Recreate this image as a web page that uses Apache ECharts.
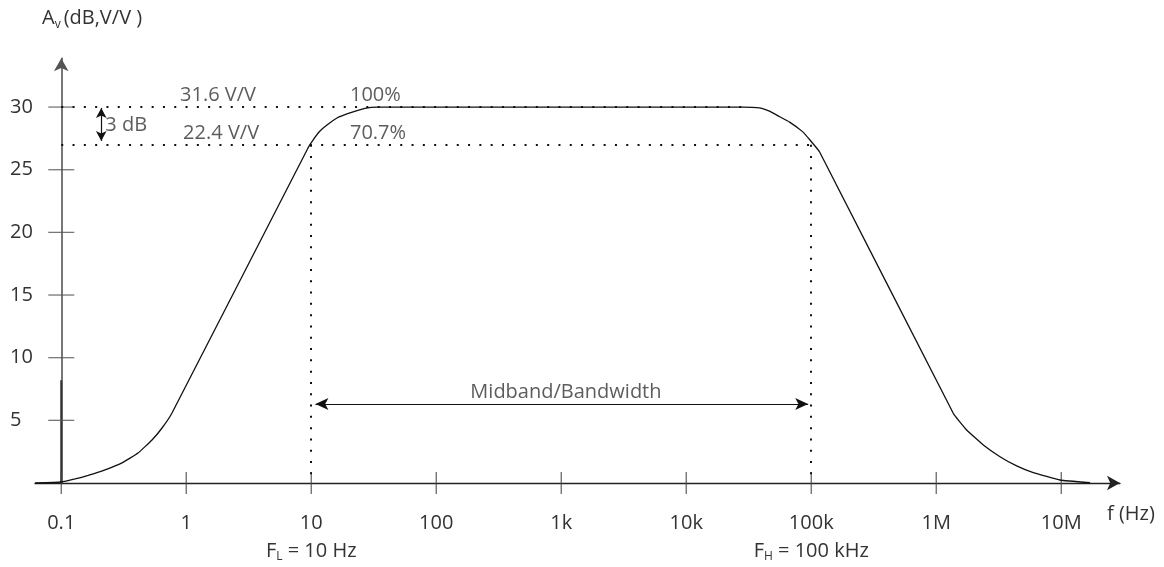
<!DOCTYPE html>
<html><head><meta charset="utf-8">
<script src="https://cdn.jsdelivr.net/npm/echarts@6/dist/echarts.min.js"></script>
<style>html,body{margin:0;padding:0;background:#fff}#c{width:1164px;height:567px}</style>
</head><body><div id="c"></div>
<script>
// ---- data ----
const tickFreqs = [0.1, 1, 10, 100, 1e3, 1e4, 1e5, 1e6, 1e7];
const tickLabels = ['0.1', '1', '10', '100', '1k', '10k', '100k', '1M', '10M'];
const cutoffSub = { 2: ['L', ' = 10 Hz'], 6: ['H', ' = 100 kHz'] };
const yTicks = [5, 10, 15, 20, 25, 30];

const curveFreqHz = [0.0617, 0.1, 0.129, 0.164, 0.224, 0.306, 0.411, 0.532, 0.640, 0.769, 9.42,
  10.33, 11.75, 13.36, 16.07, 20.4, 26.9, 33.6,
  28200, 38600, 46800, 55800, 67100, 85100, 97700, 116700,
  1.368e6, 1.752e6, 2.379e6, 3.236e6, 4.40e6, 5.976e6, 9.77e6, 1.70e7];
const curveGainDb = [0.0, 0.08, 0.32, 0.6, 1.04, 1.6, 2.39, 3.43, 4.39, 5.59, 26.74,
  27.37, 28.09, 28.57, 29.13, 29.53, 29.89, 30,
  30, 29.93, 29.65, 29.23, 28.8, 28.04, 27.37, 26.42,
  5.56, 4.23, 3.03, 2.1, 1.36, 0.82, 0.24, 0.02];

const fL = 10, fH = 1e5, flatEndHz = 28200, axisStartHz = 0.1;
const midGainDb = 30, cutGainDb = 27;
const dbArrowHz = 0.209, dbArrowTop = 29.93, dbArrowBot = 27.3;
const bandArrowDb = 6.3, bandArrowStartHz = 10.8, bandArrowEndHz = 94500;

const noteText = ['31.6 V/V', '100%', '22.4 V/V', '70.7%', '3 dB'];
const noteHz = [0.893, 20.4, 0.944, 20.4, 0.225];
const noteDb = [30.9, 30.9, 27.93, 27.93, 28.57];
const bandText = 'Midband/Bandwidth';
const bandTextHz = 1090, bandTextDb = 7.26;

// ---- helpers ----
const dec = f => Math.log10(f / axisStartHz);
const tickVals = tickFreqs.map(dec);
const FONT = 'Open Sans';
const TXT = '#333';
const FS = 20;

const chart = echarts.init(document.getElementById('c'), null, { renderer: 'canvas' });

const dotted = { type: [2, 9.3], width: 2, color: '#111', cap: 'butt' };

chart.setOption({
  animation: false,
  grid: { left: 35, right: 44, top: 58.2, bottom: 84, containLabel: false, outerBoundsMode: 'none' },
  xAxis: {
    type: 'value', min: -0.21, max: 8.47,
    axisLine: { show: true, onZero: true, lineStyle: { color: '#222', width: 1.3 }, symbol: ['none', 'arrow'], symbolSize: [11, 13] },
    axisTick: { show: false },
    splitLine: { show: false },
    axisLabel: {
      customValues: tickVals,
      margin: 24,
      color: TXT, fontFamily: FONT, fontSize: FS,
      formatter: (v) => {
        const i = tickVals.findIndex(t => Math.abs(t - v) < 1e-6);
        if (i < 0) return '';
        let s = '{n|' + tickLabels[i] + '}';
        if (cutoffSub[i]) s += '\n{f|F}{s|' + cutoffSub[i][0] + '}{f|' + cutoffSub[i][1] + '}';
        return s;
      },
      rich: {
        n: { fontSize: FS, lineHeight: 32, fontFamily: FONT, color: TXT },
        f: { fontSize: FS, lineHeight: 24, fontFamily: FONT, color: TXT },
        s: { fontSize: 12, lineHeight: 24, verticalAlign: 'bottom', fontFamily: FONT, color: TXT }
      }
    }
  },
  yAxis: {
    type: 'value', min: 0, max: 33.9, interval: 5,
    axisLine: { show: true, onZero: true, lineStyle: { color: '#555', width: 1.6 }, symbol: ['none', 'arrow'], symbolSize: [11, 13] },
    axisTick: { show: false },
    splitLine: { show: false },
    axisLabel: {
      margin: 1, color: TXT, fontFamily: FONT, fontSize: FS,
      formatter: v => (yTicks.includes(v) ? '{l|' + v + '}' : ''),
      rich: { l: { width: 24, align: 'left', fontSize: FS, fontFamily: FONT, color: TXT } }
    }
  },
  graphic: [
    {
      type: 'text', left: 42, top: 8,
      style: {
        text: '{a|A}{s|v}{a|(dB,V/V )}',
        rich: {
          a: { fontSize: FS, lineHeight: 26, fontFamily: FONT, fill: TXT },
          s: { fontSize: 12, lineHeight: 26, verticalAlign: 'bottom', padding: [0, 3, 0, 0], fontFamily: FONT, fill: TXT }
        }
      }
    },
    {
      type: 'text', left: 1107, top: 504,
      style: { text: 'f (Hz)', fontSize: FS, fontFamily: FONT, fill: TXT }
    }
  ],
  series: [
    {
      type: 'line', silent: true, showSymbol: false, smooth: 0.1,
      data: curveFreqHz.map((f, i) => [dec(f), curveGainDb[i]]),
      lineStyle: { color: '#111', width: 1.3 },
      clip: false, z: 5
    },
    {
      // darker lower part of gain axis
      type: 'line', silent: true, showSymbol: false,
      data: [[dec(axisStartHz), 0], [dec(axisStartHz), 8.2]],
      lineStyle: { color: '#333', width: 2 }, z: 3
    },
    {
      // x ticks crossing the axis
      type: 'scatter', silent: true, clip: false,
      symbol: 'rect', symbolSize: [1.3, 22],
      itemStyle: { color: '#444' },
      data: tickFreqs.map(f => [dec(f), 0]), z: 4
    },
    {
      // y ticks crossing the axis
      type: 'scatter', silent: true, clip: false,
      symbol: 'rect', symbolSize: [26, 1.3],
      itemStyle: { color: '#555' },
      data: yTicks.map(v => [dec(axisStartHz), v]), z: 4
    },
    {
      type: 'scatter', silent: true, clip: false,
      symbolSize: 0,
      data: noteText.map((t, i) => ({ value: [dec(noteHz[i]), noteDb[i]], name: t }))
        .concat([{ value: [dec(bandTextHz), bandTextDb], name: bandText, label: { position: 'inside', distance: 0 } }]),
      label: {
        show: true, position: 'right', distance: 0,
        formatter: p => p.name,
        color: TXT, fontFamily: FONT, fontSize: FS
      },
      markLine: {
        silent: true, animation: false,
        symbol: ['none', 'none'],
        label: { show: false },
        lineStyle: dotted,
        data: [
          [{ coord: [dec(axisStartHz), midGainDb] }, { coord: [dec(flatEndHz), midGainDb] }],
          [{ coord: [dec(axisStartHz), cutGainDb] }, { coord: [dec(fH), cutGainDb] }],
          [{ coord: [dec(fL), cutGainDb] }, { coord: [dec(fL), 0] }],
          [{ coord: [dec(fH), cutGainDb] }, { coord: [dec(fH), 0] }],
          [{ coord: [dec(dbArrowHz), dbArrowTop], symbol: 'arrow', symbolSize: [8, 10], lineStyle: { type: 'solid', width: 1.2, color: '#111' } },
           { coord: [dec(dbArrowHz), dbArrowBot], symbol: 'arrow', symbolSize: [8, 10] }],
          [{ coord: [dec(bandArrowStartHz), bandArrowDb], symbol: 'arrow', symbolSize: [9, 13], lineStyle: { type: 'solid', width: 1.2, color: '#111' } },
           { coord: [dec(bandArrowEndHz), bandArrowDb], symbol: 'arrow', symbolSize: [9, 13] }]
        ]
      }
    }
  ]
});
</script>
</body></html>
